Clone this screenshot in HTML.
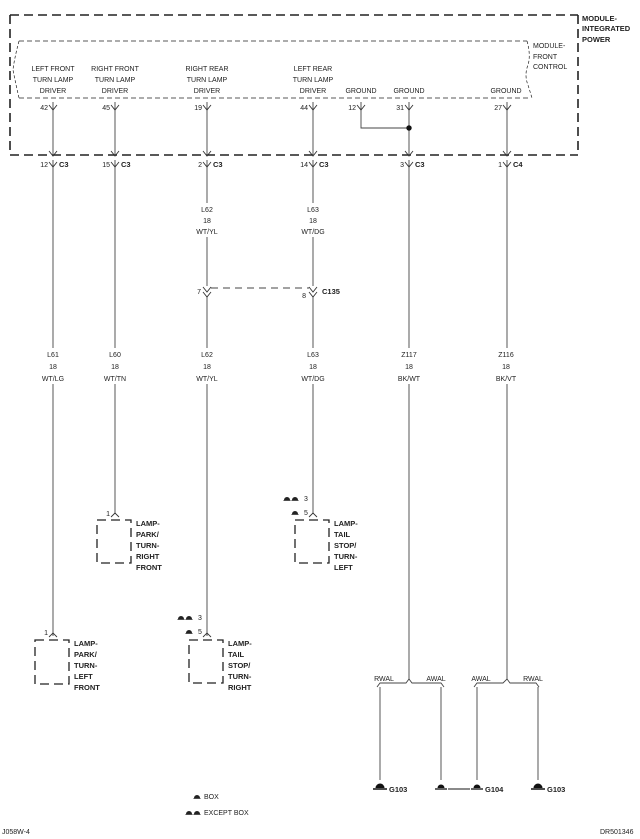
<!DOCTYPE html>
<html><head><meta charset="utf-8"><style>
html,body{margin:0;padding:0;background:#fff}
svg{display:block}
text{font-family:"Liberation Sans",sans-serif;fill:#222}
.s{font-size:7px}
.b{font-size:7.5px;font-weight:bold}
</style></head><body>
<svg width="640" height="839" viewBox="0 0 640 839" xmlns="http://www.w3.org/2000/svg">
<defs>
<g id="fy"><polyline points="-4,-5 0,0 4,-5" fill="none" stroke="#333" stroke-width="0.9"/></g>
<g id="mv"><polyline points="-4,4 0,0 4,4" fill="none" stroke="#333" stroke-width="0.9"/></g>
<g id="hc"><path d="M-3,0 A3,3 0 0 1 3,0 Z" fill="#222"/><line x1="-3.5" y1="0.5" x2="3.5" y2="0.5" stroke="#222" stroke-width="0.8"/></g>
<g id="gnd"><path d="M-4.5,0 A4.5,4.5 0 0 1 4.5,0 Z" fill="#111"/><line x1="-7" y1="1" x2="7" y2="1" stroke="#111" stroke-width="1.5"/></g>
<g id="gnds"><path d="M-3.5,0 A3.5,3.5 0 0 1 3.5,0 Z" fill="#111"/><line x1="-6" y1="1" x2="6" y2="1" stroke="#111" stroke-width="1.3"/></g>
</defs>
<g stroke="#222" fill="none">
<!-- outer box -->
<path d="M10,15 H578 M10,155 H578" stroke-width="1.6" stroke-dasharray="9,5"/>
<path d="M10,15 V155 M578,15 V155" stroke-width="1.6" stroke-dasharray="9,5"/>
<!-- inner box -->
<path d="M19,41 H527 M19,98 H528" stroke-width="0.7" stroke-dasharray="5,3"/>
<path d="M19,41 Q14,60 13,70 Q16,85 19,98" stroke-width="0.7" stroke-dasharray="3,2"/>
<path d="M527,41 Q531,55 528,65 Q524,75 528,85 L532,98" stroke-width="0.7" stroke-dasharray="3,2"/>
<!-- wires -->
<g stroke-width="0.9" stroke="#444">
<line x1="53" y1="102" x2="53" y2="155"/><line x1="115" y1="102" x2="115" y2="155"/>
<line x1="207" y1="102" x2="207" y2="155"/><line x1="313" y1="102" x2="313" y2="155"/>
<line x1="409" y1="102" x2="409" y2="155"/><line x1="507" y1="102" x2="507" y2="155"/>
<polyline points="361,102 361,128 409,128"/>
<line x1="53" y1="160" x2="53" y2="348"/><line x1="53" y1="384" x2="53" y2="636"/>
<line x1="115" y1="160" x2="115" y2="348"/><line x1="115" y1="384" x2="115" y2="514"/>
<line x1="207" y1="160" x2="207" y2="203"/><line x1="207" y1="237" x2="207" y2="286"/>
<line x1="207" y1="296" x2="207" y2="348"/><line x1="207" y1="384" x2="207" y2="636"/>
<line x1="313" y1="160" x2="313" y2="203"/><line x1="313" y1="237" x2="313" y2="286"/>
<line x1="313" y1="296" x2="313" y2="348"/><line x1="313" y1="384" x2="313" y2="514"/>
<line x1="409" y1="160" x2="409" y2="348"/><line x1="409" y1="384" x2="409" y2="680"/>
<line x1="507" y1="160" x2="507" y2="348"/><line x1="507" y1="384" x2="507" y2="680"/>
<line x1="211" y1="288" x2="309" y2="288" stroke-dasharray="7,5"/>
<!-- braces -->
<polyline points="377,687 380,683 406,683 409,679 412,683 441,683 444,687"/>
<polyline points="474,687 477,683 503,683 507,679 510,683 536,683 539,687"/>
<line x1="380" y1="687" x2="380" y2="780"/><line x1="441" y1="687" x2="441" y2="780"/>
<line x1="477" y1="687" x2="477" y2="780"/><line x1="538" y1="687" x2="538" y2="780"/>
<line x1="448" y1="789" x2="470" y2="789" stroke-width="1.2"/>
</g>
<!-- lamp boxes -->
<g stroke-width="1.3" stroke-dasharray="9,5">
<rect x="97" y="520" width="34" height="43"/>
<rect x="295" y="520" width="34" height="43"/>
<rect x="35" y="640" width="34" height="44"/>
<rect x="189" y="640" width="34" height="43"/>
</g>
</g>
<circle cx="409" cy="128" r="2.7" fill="#111"/>
<!-- connector symbols -->
<use href="#fy" x="53" y="110"/><use href="#fy" x="115" y="110"/><use href="#fy" x="207" y="110"/><use href="#fy" x="313" y="110"/>
<use href="#fy" x="361" y="110"/><use href="#fy" x="409" y="110"/><use href="#fy" x="507" y="110"/>
<use href="#fy" x="53" y="156"/><use href="#fy" x="115" y="156"/><use href="#fy" x="207" y="156"/><use href="#fy" x="313" y="156"/><use href="#fy" x="409" y="156"/><use href="#fy" x="507" y="156"/>
<use href="#fy" x="53" y="167"/><use href="#fy" x="115" y="167"/><use href="#fy" x="207" y="167"/><use href="#fy" x="313" y="167"/><use href="#fy" x="409" y="167"/><use href="#fy" x="507" y="167"/>
<use href="#fy" x="207" y="292"/><use href="#fy" x="313" y="292"/><use href="#fy" x="207" y="297"/><use href="#fy" x="313" y="297"/>
<use href="#mv" x="115" y="513"/><use href="#mv" x="313" y="513"/><use href="#mv" x="53" y="633"/><use href="#mv" x="207" y="633"/>
<!-- grounds -->
<use href="#gnd" x="380" y="788"/><use href="#gnds" x="441" y="788"/><use href="#gnds" x="477" y="788"/><use href="#gnd" x="538" y="788"/>
<!-- labels -->
<g class="s" text-anchor="middle">
<text x="53" y="71">LEFT FRONT</text><text x="53" y="82">TURN LAMP</text><text x="53" y="93">DRIVER</text>
<text x="115" y="71">RIGHT FRONT</text><text x="115" y="82">TURN LAMP</text><text x="115" y="93">DRIVER</text>
<text x="207" y="71">RIGHT REAR</text><text x="207" y="82">TURN LAMP</text><text x="207" y="93">DRIVER</text>
<text x="313" y="71">LEFT REAR</text><text x="313" y="82">TURN LAMP</text><text x="313" y="93">DRIVER</text>
<text x="361" y="93">GROUND</text><text x="409" y="93">GROUND</text><text x="506" y="93">GROUND</text>
<text x="207" y="212">L62</text><text x="207" y="223">18</text><text x="207" y="234">WT/YL</text>
<text x="313" y="212">L63</text><text x="313" y="223">18</text><text x="313" y="234">WT/DG</text>
<text x="53" y="357">L61</text><text x="53" y="369">18</text><text x="53" y="381">WT/LG</text>
<text x="115" y="357">L60</text><text x="115" y="369">18</text><text x="115" y="381">WT/TN</text>
<text x="207" y="357">L62</text><text x="207" y="369">18</text><text x="207" y="381">WT/YL</text>
<text x="313" y="357">L63</text><text x="313" y="369">18</text><text x="313" y="381">WT/DG</text>
<text x="409" y="357">Z117</text><text x="409" y="369">18</text><text x="409" y="381">BK/WT</text>
<text x="506" y="357">Z116</text><text x="506" y="369">18</text><text x="506" y="381">BK/VT</text>
<text x="384" y="681">RWAL</text><text x="436" y="681">AWAL</text><text x="481" y="681">AWAL</text><text x="533" y="681">RWAL</text>
</g>
<g class="s">
<text x="533" y="48">MODULE-</text><text x="533" y="59">FRONT</text><text x="533" y="69">CONTROL</text>
<g text-anchor="end">
<text x="48" y="110">42</text><text x="110" y="110">45</text><text x="202" y="110">19</text><text x="308" y="110">44</text>
<text x="356" y="110">12</text><text x="404" y="110">31</text><text x="502" y="110">27</text>
<text x="48" y="167">12</text><text x="110" y="167">15</text><text x="202" y="167">2</text><text x="308" y="167">14</text><text x="404" y="167">3</text><text x="502" y="167">1</text>
<text x="201" y="294">7</text><text x="306" y="298">8</text>
<text x="110" y="516">1</text><text x="48" y="635">1</text>
</g>
<text x="304" y="501">3</text><text x="304" y="515">5</text>
<text x="198" y="620">3</text><text x="198" y="634">5</text>
<text x="204" y="799">BOX</text><text x="204" y="815">EXCEPT BOX</text>
<text x="2" y="834">J058W-4</text><text x="600" y="834">DR501346</text>
</g>
<use href="#hc" x="287" y="500"/><use href="#hc" x="295" y="500"/><use href="#hc" x="295" y="514"/>
<use href="#hc" x="181" y="619"/><use href="#hc" x="189" y="619"/><use href="#hc" x="189" y="633"/>
<use href="#hc" x="197" y="798"/><use href="#hc" x="189" y="814"/><use href="#hc" x="197" y="814"/>
<g class="b">
<text x="582" y="21">MODULE-</text><text x="582" y="31">INTEGRATED</text><text x="582" y="42">POWER</text>
<text x="59" y="167">C3</text><text x="121" y="167">C3</text><text x="213" y="167">C3</text><text x="319" y="167">C3</text><text x="415" y="167">C3</text><text x="513" y="167">C4</text>
<text x="322" y="294">C135</text>
<text x="136" y="526">LAMP-</text><text x="136" y="537">PARK/</text><text x="136" y="548">TURN-</text><text x="136" y="559">RIGHT</text><text x="136" y="570">FRONT</text>
<text x="334" y="526">LAMP-</text><text x="334" y="537">TAIL</text><text x="334" y="548">STOP/</text><text x="334" y="559">TURN-</text><text x="334" y="570">LEFT</text>
<text x="74" y="646">LAMP-</text><text x="74" y="657">PARK/</text><text x="74" y="668">TURN-</text><text x="74" y="679">LEFT</text><text x="74" y="690">FRONT</text>
<text x="228" y="646">LAMP-</text><text x="228" y="657">TAIL</text><text x="228" y="668">STOP/</text><text x="228" y="679">TURN-</text><text x="228" y="690">RIGHT</text>
<text x="389" y="792">G103</text><text x="485" y="792">G104</text><text x="547" y="792">G103</text>
</g>
</svg>
</body></html>
